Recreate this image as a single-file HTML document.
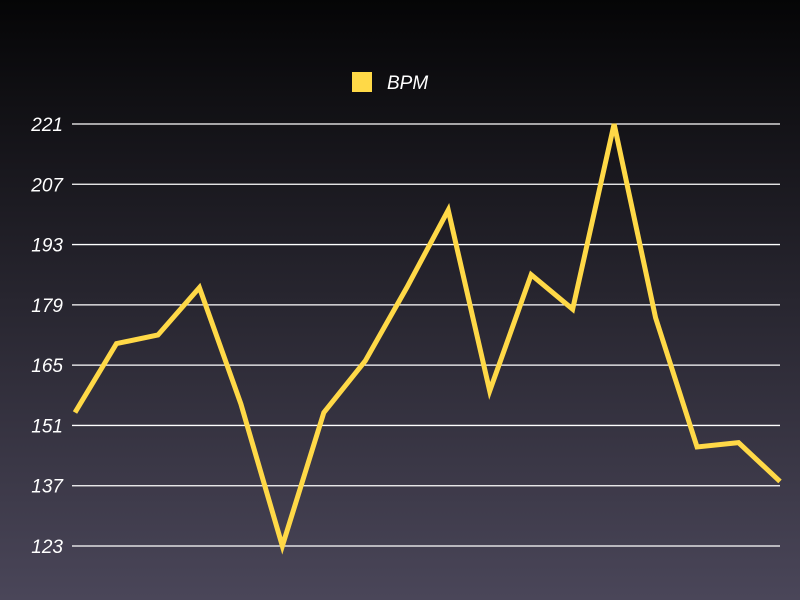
<!DOCTYPE html>
<html><head><meta charset="utf-8"><style>
html,body{margin:0;padding:0}
body{width:800px;height:600px;overflow:hidden;background:linear-gradient(#050506,#4a4659);font-family:"Liberation Sans",sans-serif}
svg{display:block}
</style></head><body>
<svg id="chart" width="800" height="600" xmlns="http://www.w3.org/2000/svg">
<g id="legend">
<rect x="352" y="72" width="20" height="20" fill="#ffd947"/>
<text x="387" y="89" fill="#fff" font-size="19" font-style="italic" font-family="Liberation Sans, sans-serif">BPM</text>
</g>
<g id="grid"></g><g id="series"></g>
</svg>
<script>
const ticks=[123,137,151,165,179,193,207,221];
const bpm=[154,170,172,183,156,123,154,166,183,201,159,186,178,221,176,146,147,138];
const NS="http://www.w3.org/2000/svg";
const yMin=123,yMax=221,yTop=124,yBot=546,xL=75,xR=780;
const y=v=>yBot-(v-yMin)/(yMax-yMin)*(yBot-yTop);
const x=i=>xL+i*(xR-xL)/(bpm.length-1);
const grid=document.getElementById('grid');
ticks.forEach(t=>{
 const l=document.createElementNS(NS,'line');
 
 
 l.setAttribute('x1',72);l.setAttribute('x2',780);
 l.setAttribute('y1',y(t));l.setAttribute('y2',y(t));
 l.setAttribute('stroke','#fff');l.setAttribute('stroke-width','1.3');
 grid.appendChild(l);
 const tx=document.createElementNS(NS,'text');
 
 
 tx.setAttribute('x',63);tx.setAttribute('y',y(t)+7);
 tx.setAttribute('text-anchor','end');tx.setAttribute('fill','#fff');
 tx.setAttribute('font-size','19');tx.setAttribute('font-style','italic');
 tx.setAttribute('font-family','Liberation Sans, sans-serif');
 tx.textContent=t;grid.appendChild(tx);
});
const p=document.createElementNS(NS,'polyline');


p.setAttribute('points',bpm.map((v,i)=>x(i)+','+y(v)).join(' '));
p.setAttribute('fill','none');p.setAttribute('stroke','#ffd947');
p.setAttribute('stroke-width','5');p.setAttribute('stroke-linejoin','miter');
document.getElementById('series').appendChild(p);
</script>
</body></html>
